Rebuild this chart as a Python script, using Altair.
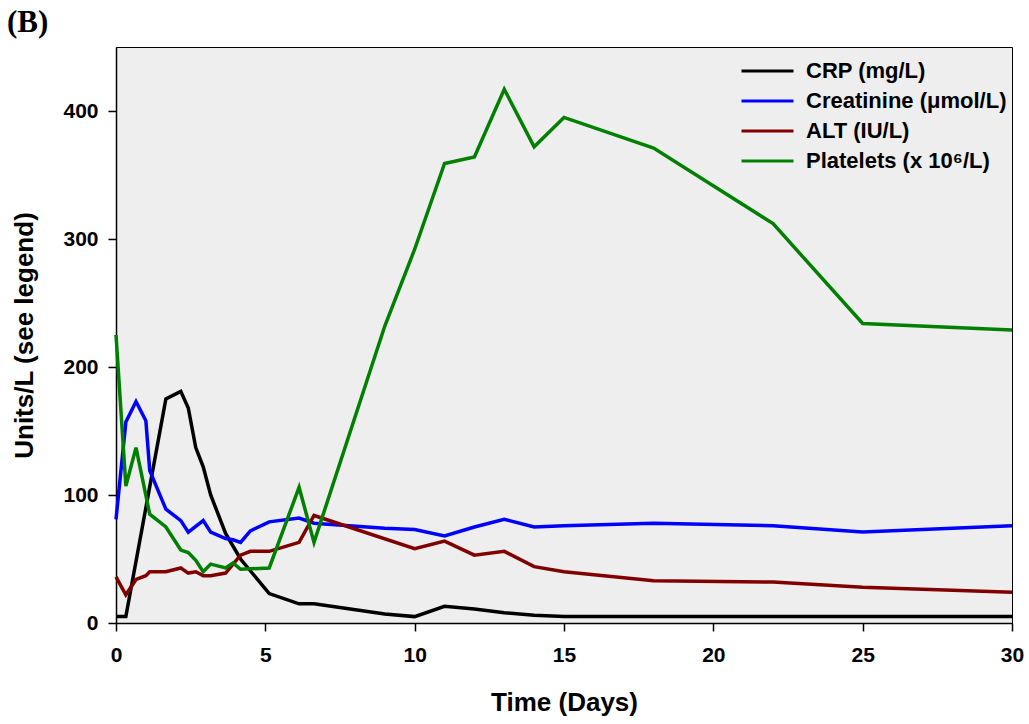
import altair as alt
import pandas as pd

# Time points (days) and measured values for each marker
crp_days = [0, 0.33, 1.67, 2.17, 2.42, 2.67, 2.92, 3.17, 3.67, 4.17, 5.13, 6.13,
            6.63, 9, 10, 11, 12, 13, 14, 15, 18, 22, 25, 30]
crp_vals = [5, 5, 175, 181, 168, 137, 122, 100, 70, 50, 23, 15,
            15, 7, 5, 13, 11, 8, 6, 5, 5, 5, 5, 5]

creat_days = [0, 0.33, 0.67, 1.0, 1.13, 1.67, 2.17, 2.42, 2.92, 3.17, 3.67, 3.92,
              4.17, 4.5, 5.13, 6.13, 6.63, 9, 10, 11, 12, 13, 14, 15, 18, 22, 25, 30]
creat_vals = [81, 157, 173, 158, 119, 89, 80, 71, 80, 71, 66, 65,
              63, 72, 79, 82, 78, 74, 73, 68, 75, 81, 75, 76, 78, 76, 71, 76]

alt_days = [0, 0.33, 0.67, 1.0, 1.13, 1.67, 2.17, 2.42, 2.67, 2.92, 3.17, 3.67,
            4.17, 4.5, 5.13, 6.13, 6.63, 10, 11, 12, 13, 14, 15, 18, 22, 25, 30]
alt_vals = [36, 22, 34, 37, 40, 40, 43, 39, 40, 37, 37, 39,
            53, 56, 56, 63, 84, 58, 64, 53, 56, 44, 40, 33, 32, 28, 24]

plt_days = [0, 0.33, 0.67, 1.13, 1.67, 2.17, 2.42, 2.67, 2.92, 3.17, 3.67, 3.92,
            4.17, 5.13, 6.13, 6.63, 9, 10, 11, 12, 13, 14, 15, 18, 22, 25, 30]
plt_vals = [225, 107, 137, 85, 75, 57, 55, 49, 40, 46, 43, 47,
            42, 43, 106, 63, 232, 292, 359, 364, 417, 372, 395, 371, 312, 234, 229]

series_names = ["CRP (mg/L)", "Creatinine (\u03bcmol/L)", "ALT (IU/L)",
                "Platelets (x 10\u2076/L)"]
series_colors = ["#000000", "#0000ff", "#800000", "#008000"]

x_ticks = [0, 5, 10, 15, 20, 25, 30]
y_ticks = [0, 100, 200, 300, 400]

rows = []
for name, xs, ys in zip(series_names,
                        [crp_days, creat_days, alt_days, plt_days],
                        [crp_vals, creat_vals, alt_vals, plt_vals]):
    for d, v in zip(xs, ys):
        rows.append({"series": name, "day": d, "value": v})
df = pd.DataFrame(rows)

FONT = "Liberation Sans"

chart = alt.Chart(df).mark_line(strokeWidth=3.5).encode(
    x=alt.X("day:Q",
            scale=alt.Scale(domain=[0, 30], nice=False, zero=False),
            axis=alt.Axis(values=x_ticks, title="Time (Days)", labelPadding=13,
                          labelFlush=False, titlePadding=24)),
    y=alt.Y("value:Q",
            scale=alt.Scale(domain=[0, 450], nice=False),
            axis=alt.Axis(values=y_ticks, title="Units/L (see legend)",
                          labelPadding=10, titlePadding=25)),
    color=alt.Color("series:N",
                    scale=alt.Scale(domain=series_names, range=series_colors),
                    sort=series_names,
                    legend=alt.Legend(title=None, orient="none",
                                      legendX=624, legendY=14,
                                      symbolType="stroke", symbolSize=2704,
                                      symbolStrokeWidth=3, labelOffset=11,
                                      clipHeight=20, rowPadding=8, padding=0,
                                      labelFont=FONT, labelFontSize=22,
                                      labelFontWeight="bold", labelColor="black",
                                      labelLimit=400)),
).properties(
    width=896,
    height=576,
    title=alt.TitleParams(text="(B)", anchor="start", frame="group", dx=-109,
                          offset=8, font="Liberation Serif", fontSize=31,
                          fontWeight="bold", color="black"),
    autosize=alt.AutoSizeParams(type="none"),
    padding={"left": 116, "top": 47, "right": 17, "bottom": 101},
).configure_view(
    fill="#eeeeee", stroke="black", strokeWidth=1
).configure_axis(
    grid=False, domainColor="black", domainWidth=1.5, tickColor="black",
    tickSize=8, tickWidth=1.5,
    labelFont=FONT, labelFontSize=21, labelFontWeight="bold", labelColor="black",
    titleFont=FONT, titleFontSize=26, titleFontWeight="bold", titleColor="black",
)

chart.save("out.html", embed_options={"renderer": "svg", "actions": False})
